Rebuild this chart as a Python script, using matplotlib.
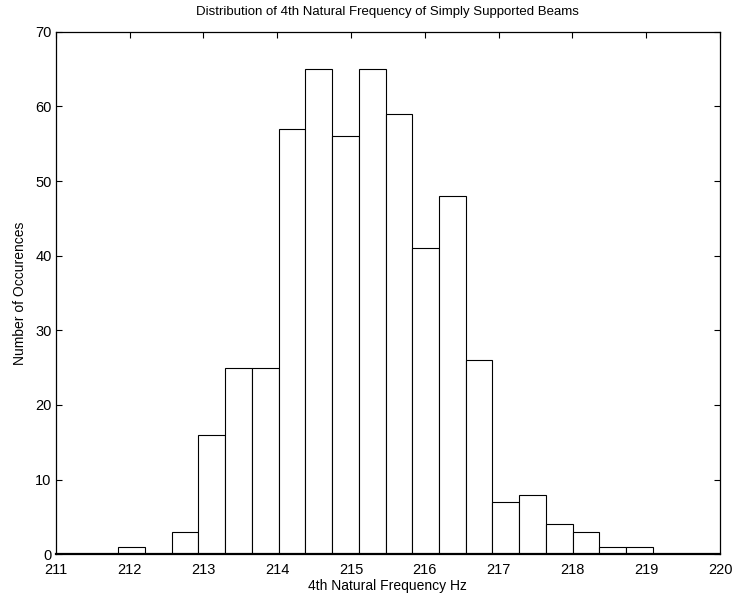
import numpy as np
import matplotlib
matplotlib.use("Agg")
import matplotlib.pyplot as plt

plt.rcParams['font.family'] = ['Liberation Sans', 'DejaVu Sans']

# histogram bins (Hz) and counts per bin
bin_left = 211.124
bin_width = 0.362
counts = [0, 0, 1, 0, 3, 16, 25, 25, 57, 65, 56, 65, 59,
          41, 48, 26, 7, 8, 4, 3, 1, 1, 0, 0, 0]

edges = bin_left + bin_width * np.arange(len(counts) + 1)

fig = plt.figure(figsize=(7.46, 5.96), dpi=100)
ax = fig.add_axes([0.0747, 0.070, 0.8905, 0.8768])

ax.bar(edges[:-1], counts, width=bin_width, align='edge',
       color='white', edgecolor='black', linewidth=0.8)

ax.set_xlim(211, 220)
ax.set_ylim(0, 70)
ax.set_xticks(np.arange(211, 221, 1))
ax.set_yticks(np.arange(0, 71, 10))
ax.tick_params(direction='in', top=True, right=True, length=4.5,
               width=0.8, labelsize=10.5)
# bottom tick marks are hidden under the bars, keep only the labels
ax.tick_params(axis='x', pad=6, bottom=False)
ax.tick_params(axis='y', pad=3)
for s in ax.spines.values():
    s.set_linewidth(0.9)
ax.spines['bottom'].set_linewidth(1.6)

ax.set_title('Distribution of 4th Natural Frequency of Simply Supported Beams',
             fontsize=9.5, pad=12)
ax.set_xlabel('4th Natural Frequency Hz', fontsize=10, labelpad=2)
ax.set_ylabel('Number of Occurences', fontsize=10, labelpad=6)

fig.savefig('out.png', dpi=100)
